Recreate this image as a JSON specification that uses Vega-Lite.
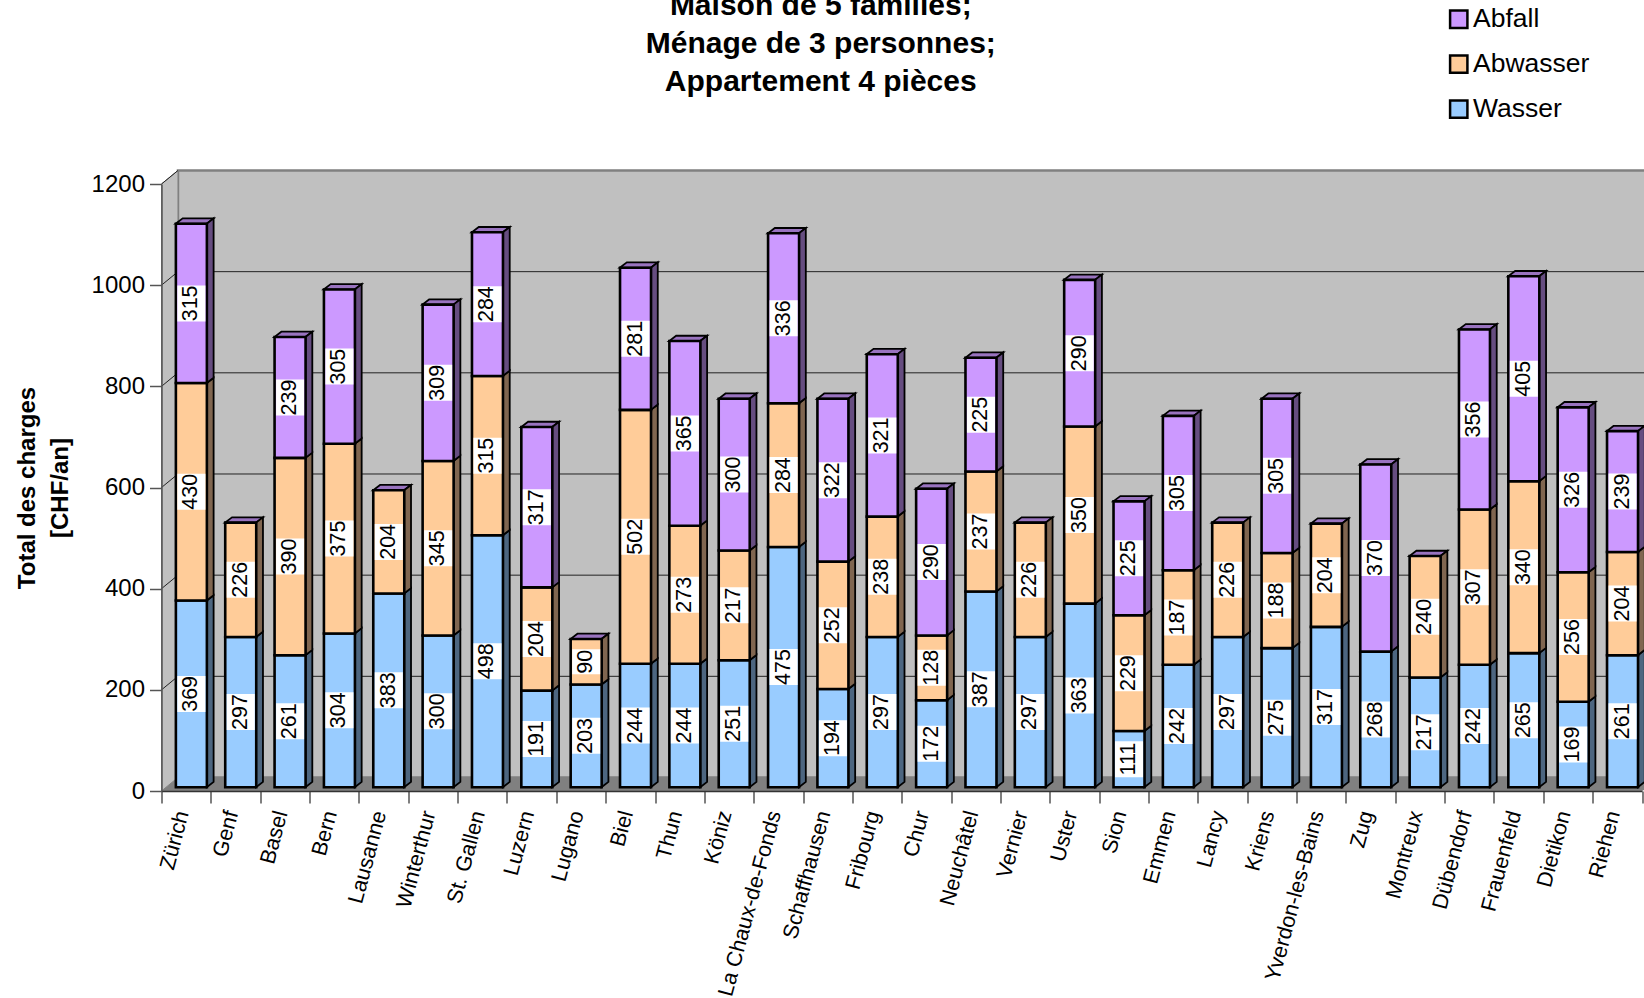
{"$schema":"https://vega.github.io/schema/vega-lite/v6.json","autosize":{"type":"none"},"padding":{"left":161.5,"top":184,"right":2,"bottom":207},"width":1480.5,"height":607,"background":"white","view":{"stroke":null},"config":{"font":"Liberation Sans"},"title":{"text":["Maison de 5 familles;","Ménage de 3 personnes;","Appartement 4 pièces"],"font":"Liberation Sans","fontSize":30,"fontWeight":"bold","color":"black","lineHeight":38,"anchor":"middle","dx":-81,"offset":-91.4},"datasets":{"wall":[{"a":0.334,"b":30.5,"lo":26.7,"hi":1226.7}],"side":[{"x":0,"lo":0,"hi":1200},{"x":0.334,"lo":26.7,"hi":1226.7}],"floor":[{"y":0,"a":0,"b":30},{"y":26.7,"a":0.334,"b":30.5}],"grid":[{"v":200,"a":0.334,"b":30.5,"y":226.7},{"v":400,"a":0.334,"b":30.5,"y":426.7},{"v":600,"a":0.334,"b":30.5,"y":626.7},{"v":800,"a":0.334,"b":30.5,"y":826.7},{"v":1000,"a":0.334,"b":30.5,"y":1026.7}],"diag":[{"v":200,"x":0,"y":200},{"v":200,"x":0.334,"y":226.7},{"v":400,"x":0,"y":400},{"v":400,"x":0.334,"y":426.7},{"v":600,"x":0,"y":600},{"v":600,"x":0.334,"y":626.7},{"v":800,"x":0,"y":800},{"v":800,"x":0.334,"y":826.7},{"v":1000,"x":0,"y":1000},{"v":1000,"x":0.334,"y":1026.7},{"v":1200,"x":0,"y":1200},{"v":1200,"x":0.334,"y":1226.7}]},"data":{"values":[{"city":"Zürich","series":"Wasser","value":369},{"city":"Zürich","series":"Abwasser","value":430},{"city":"Zürich","series":"Abfall","value":315},{"city":"Genf","series":"Wasser","value":297},{"city":"Genf","series":"Abwasser","value":226},{"city":"Basel","series":"Wasser","value":261},{"city":"Basel","series":"Abwasser","value":390},{"city":"Basel","series":"Abfall","value":239},{"city":"Bern","series":"Wasser","value":304},{"city":"Bern","series":"Abwasser","value":375},{"city":"Bern","series":"Abfall","value":305},{"city":"Lausanne","series":"Wasser","value":383},{"city":"Lausanne","series":"Abwasser","value":204},{"city":"Winterthur","series":"Wasser","value":300},{"city":"Winterthur","series":"Abwasser","value":345},{"city":"Winterthur","series":"Abfall","value":309},{"city":"St. Gallen","series":"Wasser","value":498},{"city":"St. Gallen","series":"Abwasser","value":315},{"city":"St. Gallen","series":"Abfall","value":284},{"city":"Luzern","series":"Wasser","value":191},{"city":"Luzern","series":"Abwasser","value":204},{"city":"Luzern","series":"Abfall","value":317},{"city":"Lugano","series":"Wasser","value":203},{"city":"Lugano","series":"Abwasser","value":90},{"city":"Biel","series":"Wasser","value":244},{"city":"Biel","series":"Abwasser","value":502},{"city":"Biel","series":"Abfall","value":281},{"city":"Thun","series":"Wasser","value":244},{"city":"Thun","series":"Abwasser","value":273},{"city":"Thun","series":"Abfall","value":365},{"city":"Köniz","series":"Wasser","value":251},{"city":"Köniz","series":"Abwasser","value":217},{"city":"Köniz","series":"Abfall","value":300},{"city":"La Chaux-de-Fonds","series":"Wasser","value":475},{"city":"La Chaux-de-Fonds","series":"Abwasser","value":284},{"city":"La Chaux-de-Fonds","series":"Abfall","value":336},{"city":"Schaffhausen","series":"Wasser","value":194},{"city":"Schaffhausen","series":"Abwasser","value":252},{"city":"Schaffhausen","series":"Abfall","value":322},{"city":"Fribourg","series":"Wasser","value":297},{"city":"Fribourg","series":"Abwasser","value":238},{"city":"Fribourg","series":"Abfall","value":321},{"city":"Chur","series":"Wasser","value":172},{"city":"Chur","series":"Abwasser","value":128},{"city":"Chur","series":"Abfall","value":290},{"city":"Neuchâtel","series":"Wasser","value":387},{"city":"Neuchâtel","series":"Abwasser","value":237},{"city":"Neuchâtel","series":"Abfall","value":225},{"city":"Vernier","series":"Wasser","value":297},{"city":"Vernier","series":"Abwasser","value":226},{"city":"Uster","series":"Wasser","value":363},{"city":"Uster","series":"Abwasser","value":350},{"city":"Uster","series":"Abfall","value":290},{"city":"Sion","series":"Wasser","value":111},{"city":"Sion","series":"Abwasser","value":229},{"city":"Sion","series":"Abfall","value":225},{"city":"Emmen","series":"Wasser","value":242},{"city":"Emmen","series":"Abwasser","value":187},{"city":"Emmen","series":"Abfall","value":305},{"city":"Lancy","series":"Wasser","value":297},{"city":"Lancy","series":"Abwasser","value":226},{"city":"Kriens","series":"Wasser","value":275},{"city":"Kriens","series":"Abwasser","value":188},{"city":"Kriens","series":"Abfall","value":305},{"city":"Yverdon-les-Bains","series":"Wasser","value":317},{"city":"Yverdon-les-Bains","series":"Abwasser","value":204},{"city":"Zug","series":"Wasser","value":268},{"city":"Zug","series":"Abfall","value":370},{"city":"Montreux","series":"Wasser","value":217},{"city":"Montreux","series":"Abwasser","value":240},{"city":"Dübendorf","series":"Wasser","value":242},{"city":"Dübendorf","series":"Abwasser","value":307},{"city":"Dübendorf","series":"Abfall","value":356},{"city":"Frauenfeld","series":"Wasser","value":265},{"city":"Frauenfeld","series":"Abwasser","value":340},{"city":"Frauenfeld","series":"Abfall","value":405},{"city":"Dietikon","series":"Wasser","value":169},{"city":"Dietikon","series":"Abwasser","value":256},{"city":"Dietikon","series":"Abfall","value":326},{"city":"Riehen","series":"Wasser","value":261},{"city":"Riehen","series":"Abwasser","value":204},{"city":"Riehen","series":"Abfall","value":239}]},"transform":[{"stack":"value","groupby":["city"],"sort":[{"field":"series","order":"descending"}],"as":["s0","s1"]},{"calculate":"datum.s0+7.5","as":"y0b"},{"calculate":"datum.s1+7.5","as":"y1b"},{"calculate":"(datum.y0b+datum.y1b)/2","as":"mid"},{"calculate":"indexof(['Zürich','Genf','Basel','Bern','Lausanne','Winterthur','St. Gallen','Luzern','Lugano','Biel','Thun','Köniz','La Chaux-de-Fonds','Schaffhausen','Fribourg','Chur','Neuchâtel','Vernier','Uster','Sion','Emmen','Lancy','Kriens','Yverdon-les-Bains','Zug','Montreux','Dübendorf','Frauenfeld','Dietikon','Riehen'],datum.city)","as":"pos"},{"joinaggregate":[{"op":"max","field":"s1","as":"total"}],"groupby":["city"]}],"resolve":{"scale":{"x":"independent"}},"layer":[{"layer":[{"data":{"name":"wall"},"mark":{"type":"rect","fill":"#C0C0C0","stroke":"#808080","strokeWidth":2.5},"encoding":{"x":{"field":"a","type":"quantitative","scale":{"domain":[0,30]},"axis":null},"x2":{"field":"b"},"y":{"field":"lo","type":"quantitative","scale":{"domain":[0,1200]},"axis":{"values":[0,200,400,600,800,1000,1200],"format":"d","title":["Total des charges","[CHF/an]"],"titleFontSize":24,"titleFontWeight":"bold","titleFont":"Liberation Sans","titleColor":"black","titleLineHeight":33,"titlePadding":19,"labelFontSize":24,"labelFont":"Liberation Sans","labelColor":"black","labelPadding":5,"tickSize":12,"tickColor":"#555555","tickWidth":1.5,"domainColor":"#555555","domainWidth":1.5,"grid":false,"zindex":1}},"y2":{"field":"hi"}}},{"data":{"name":"side"},"mark":{"type":"area","fill":"#C0C0C0","stroke":"#808080","strokeWidth":1,"opacity":1},"encoding":{"x":{"field":"x","type":"quantitative","scale":{"domain":[0,30]},"axis":null},"y":{"field":"lo","type":"quantitative","stack":null},"y2":{"field":"hi"}}},{"data":{"name":"floor"},"mark":{"type":"area","orient":"horizontal","fill":"#808080","opacity":1},"encoding":{"y":{"field":"y","type":"quantitative"},"x":{"field":"a","type":"quantitative","scale":{"domain":[0,30]},"axis":null,"stack":null},"x2":{"field":"b"}}},{"data":{"name":"grid"},"mark":{"type":"rule","color":"#222222","strokeWidth":1},"encoding":{"x":{"field":"a","type":"quantitative","scale":{"domain":[0,30]},"axis":null},"x2":{"field":"b"},"y":{"field":"y","type":"quantitative"}}},{"data":{"name":"diag"},"mark":{"type":"line","color":"#222222","strokeWidth":1},"encoding":{"x":{"field":"x","type":"quantitative","scale":{"domain":[0,30]},"axis":null},"y":{"field":"y","type":"quantitative"},"detail":{"field":"v"}}},{"transform":[{"filter":"datum.s1==datum.total"},{"calculate":"0","as":"p"},{"calculate":"1","as":"q"},{"fold":["p","q"],"as":["k","t"]},{"calculate":"datum.y1b+datum.t*10.5","as":"ty"},{"calculate":"datum.pos+0.288+datum.t*0.14","as":"ta"},{"calculate":"datum.pos+0.916+datum.t*0.14","as":"tb"}],"mark":{"type":"area","orient":"horizontal","fill":"#9973BF","stroke":"black","strokeWidth":1.8,"opacity":1},"encoding":{"y":{"field":"ty","type":"quantitative"},"x":{"field":"ta","type":"quantitative","scale":{"domain":[0,30]},"axis":null,"stack":null},"x2":{"field":"tb"},"detail":{"field":"city"}}},{"transform":[{"calculate":"0","as":"p"},{"calculate":"1","as":"q"},{"fold":["p","q"],"as":["k","t"]},{"calculate":"datum.pos+0.916+datum.t*0.14","as":"sx"},{"calculate":"datum.y0b+datum.t*10.5","as":"sa"},{"calculate":"datum.y1b+datum.t*10.5","as":"sb"},{"calculate":"datum.city+datum.series","as":"id"}],"mark":{"type":"area","stroke":"black","strokeWidth":1.8,"opacity":1},"encoding":{"x":{"field":"sx","type":"quantitative","scale":{"domain":[0,30]},"axis":null},"y":{"field":"sa","type":"quantitative","stack":null},"y2":{"field":"sb"},"detail":{"field":"id"},"fill":{"field":"series","type":"nominal","scale":{"domain":["Wasser","Abwasser","Abfall"],"range":["#4D6680","#806650","#664D80"]},"legend":null}}}]},{"encoding":{"x":{"field":"city","type":"nominal","title":null,"scale":{"domain":["Zürich","Genf","Basel","Bern","Lausanne","Winterthur","St. Gallen","Luzern","Lugano","Biel","Thun","Köniz","La Chaux-de-Fonds","Schaffhausen","Fribourg","Chur","Neuchâtel","Vernier","Uster","Sion","Emmen","Lancy","Kriens","Yverdon-les-Bains","Zug","Montreux","Dübendorf","Frauenfeld","Dietikon","Riehen"],"padding":0},"axis":{"tickBand":"extent","tickSize":12,"tickColor":"#555555","tickWidth":1.5,"domainColor":"#333333","domainWidth":1.5,"labelAngle":285,"labelAlign":"right","labelBaseline":"middle","labelFontSize":21.6,"labelFont":"Liberation Sans","labelColor":"black","labelPadding":8,"labelOffset":-3.5,"labelLimit":400,"labelOverlap":false,"zindex":1}}},"layer":[{"mark":{"type":"bar","size":31,"xOffset":5.2,"stroke":"black","strokeWidth":2.6,"opacity":1},"encoding":{"y":{"field":"y0b","type":"quantitative","stack":null},"y2":{"field":"y1b"},"color":{"field":"series","type":"nominal","scale":{"domain":["Abfall","Abwasser","Wasser"],"range":["#CC99FF","#FFCC99","#99CCFF"]},"legend":{"orient":"none","legendX":1284,"legendY":-178,"title":null,"symbolType":"square","symbolSize":300,"symbolStrokeColor":"black","symbolStrokeWidth":2.5,"symbolOpacity":1,"labelFontSize":26.5,"labelFont":"Liberation Sans","labelColor":"black","labelOffset":1,"rowPadding":16.9}}}},{"transform":[{"filter":"datum.value>=100"}],"mark":{"type":"tick","size":28,"thickness":36,"color":"white","opacity":1,"xOffset":5.2},"encoding":{"y":{"field":"mid","type":"quantitative"}}},{"transform":[{"filter":"datum.value<100"}],"mark":{"type":"tick","size":28,"thickness":25,"color":"white","opacity":1,"xOffset":5.2},"encoding":{"y":{"field":"mid","type":"quantitative"}}},{"mark":{"type":"text","angle":270,"align":"center","baseline":"middle","fontSize":21.5,"font":"Liberation Sans","color":"black","xOffset":5.2},"encoding":{"y":{"field":"mid","type":"quantitative"},"text":{"field":"value","type":"quantitative"}}}]}]}
